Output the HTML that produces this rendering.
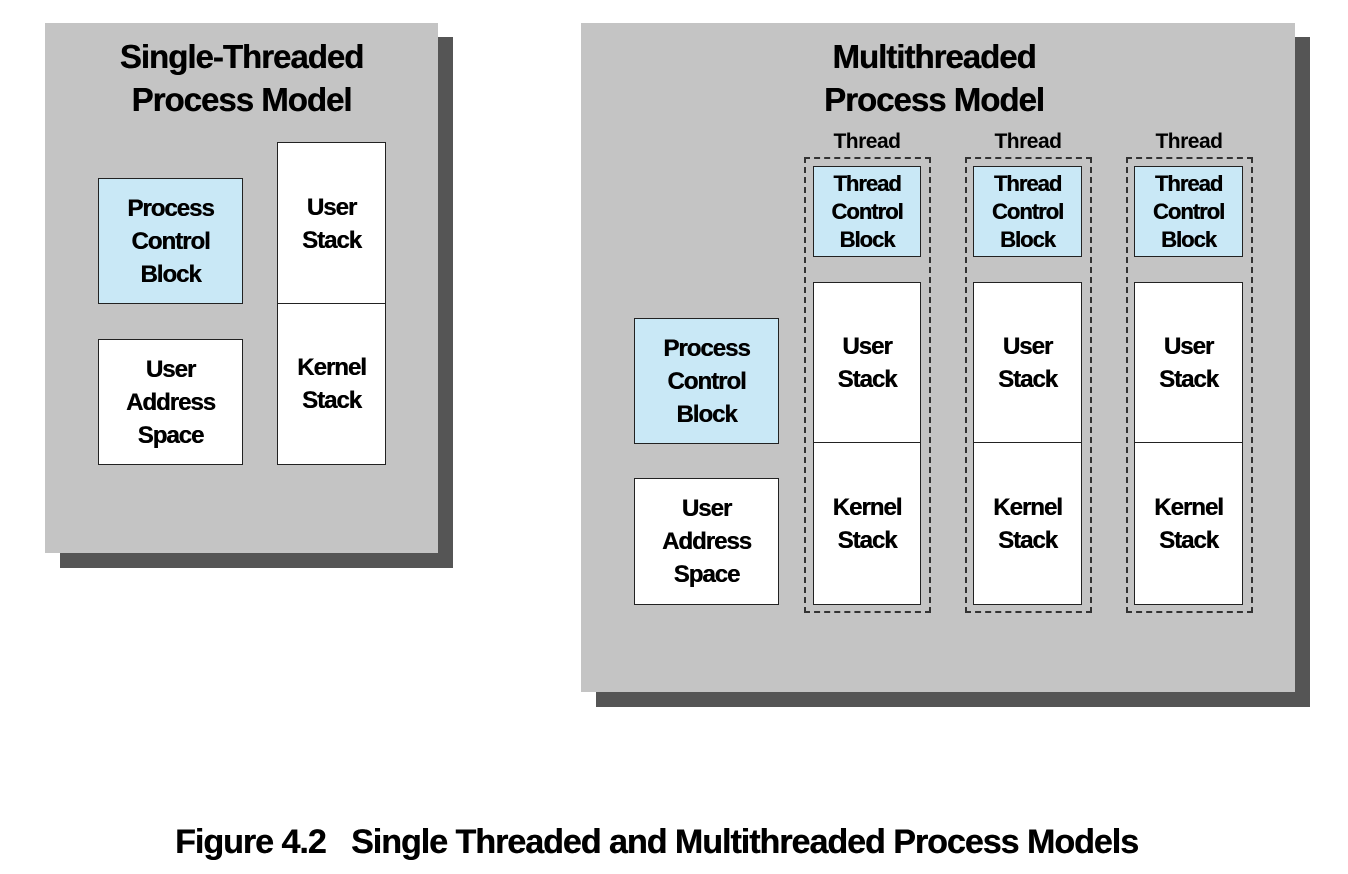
<!DOCTYPE html>
<html><head><style>
body{margin:0;width:1348px;height:874px;background:#fff;position:relative;overflow:hidden;font-family:"Liberation Sans",Arial,sans-serif;font-weight:bold;color:#000}
div{position:absolute;box-sizing:border-box}
.sh{background:#555}
.pn{background:#c4c4c4}
.t{text-align:center;font-size:33px;line-height:43px;letter-spacing:-1px;text-shadow:0.4px 0 0 #000}
.b{border:1.5px solid #222;display:flex;align-items:center;justify-content:center;text-align:center;font-size:24px;line-height:33px;letter-spacing:-1px;background:#fff;text-shadow:0.4px 0 0 #000}
.c{background:#c9e8f6}
.tc{font-size:22px;line-height:28px}
.d{border:2px dashed #333}
.lb{font-size:21px;text-align:center;letter-spacing:-0.5px;width:126px;line-height:24px}
</style></head><body>
<div class="sh" style="left:60px;top:37px;width:393px;height:531px"></div>
<div class="pn" style="left:45px;top:23px;width:393px;height:530px"></div>
<div class="t" style="left:45px;top:35px;width:393px">Single-Threaded<br>Process Model</div>
<div class="b c" style="left:98px;top:178px;width:145px;height:126px">Process<br>Control<br>Block</div>
<div class="b" style="left:98px;top:339px;width:145px;height:126px">User<br>Address<br>Space</div>
<div class="b" style="left:277px;top:142px;width:109px;height:163px">User<br>Stack</div>
<div class="b" style="left:277px;top:303px;width:109px;height:162px">Kernel<br>Stack</div>

<div class="sh" style="left:596px;top:37px;width:714px;height:670px"></div>
<div class="pn" style="left:581px;top:23px;width:714px;height:669px"></div>
<div class="t" style="left:734px;top:35px;width:400px">Multithreaded<br>Process Model</div>
<div class="b c" style="left:634px;top:318px;width:145px;height:126px">Process<br>Control<br>Block</div>
<div class="b" style="left:634px;top:478px;width:145px;height:127px">User<br>Address<br>Space</div>

<div class="lb" style="left:804px;top:130px">Thread</div>
<div class="d" style="left:804px;top:157px;width:127px;height:456px"></div>
<div class="b c tc" style="left:813px;top:166px;width:108px;height:91px">Thread<br>Control<br>Block</div>
<div class="b" style="left:813px;top:282px;width:108px;height:162px">User<br>Stack</div>
<div class="b" style="left:813px;top:442px;width:108px;height:163px">Kernel<br>Stack</div>

<div class="lb" style="left:965px;top:130px">Thread</div>
<div class="d" style="left:965px;top:157px;width:127px;height:456px"></div>
<div class="b c tc" style="left:973px;top:166px;width:109px;height:91px">Thread<br>Control<br>Block</div>
<div class="b" style="left:973px;top:282px;width:109px;height:162px">User<br>Stack</div>
<div class="b" style="left:973px;top:442px;width:109px;height:163px">Kernel<br>Stack</div>

<div class="lb" style="left:1126px;top:130px">Thread</div>
<div class="d" style="left:1126px;top:157px;width:127px;height:456px"></div>
<div class="b c tc" style="left:1134px;top:166px;width:109px;height:91px">Thread<br>Control<br>Block</div>
<div class="b" style="left:1134px;top:282px;width:109px;height:162px">User<br>Stack</div>
<div class="b" style="left:1134px;top:442px;width:109px;height:163px">Kernel<br>Stack</div>

<div style="left:175px;top:822px;width:1100px;font-size:34px;line-height:40px;letter-spacing:-1px;white-space:nowrap;text-shadow:0.4px 0 0 #000">Figure 4.2&nbsp;&nbsp; Single Threaded and Multithreaded Process Models</div>
</body></html>
